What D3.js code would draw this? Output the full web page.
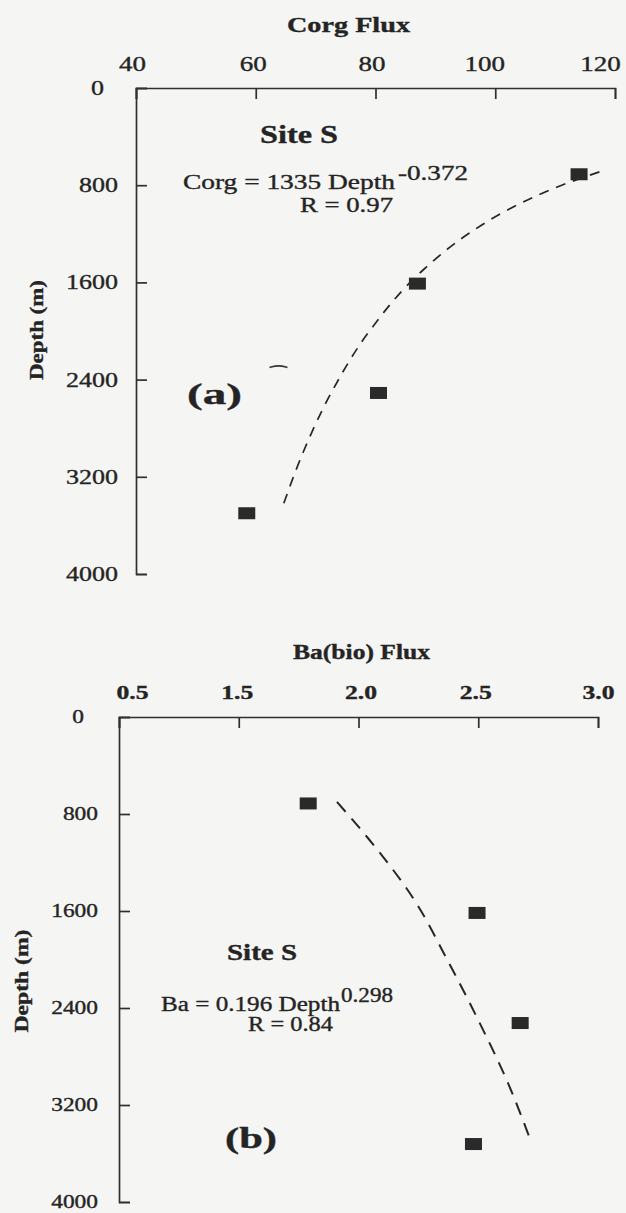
<!DOCTYPE html>
<html><head><meta charset="utf-8">
<script src="https://cdn.jsdelivr.net/npm/d3@7"></script>
<style>
html,body{margin:0;padding:0;background:#f5f5f3;}
svg{display:block;}
text{font-family:"Liberation Serif","Times New Roman",serif;fill:#242424;stroke:#242424;stroke-width:0.35px;}
</style></head><body>
<svg id="chart" width="626" height="1213"></svg>
<script>
// ---------- data ----------
const depthTicks = [0, 800, 1600, 2400, 3200, 4000];
const depthTickLabels = ["0", "800", "1600", "2400", "3200", "4000"];

const corgTicks = [40, 60, 80, 100, 120];
const corgTickLabels = ["40", "60", "80", "100", "120"];
const corgDepth = [710, 1610, 2510, 3500];
const corgFlux = [114.0, 87.0, 80.5, 58.5];
const corgFitDepth = [690, 800, 1000, 1200, 1500, 2000, 2500, 3000, 3430];
const corgFitFlux = [117.4, 111.1, 102.2, 95.5, 87.9, 79.0, 72.7, 67.9, 64.6];

const baTicks = [1.0, 1.5, 2.0, 2.5, 3.0];
const baTickLabels = ["0.5", "1.5", "2.0", "2.5", "3.0"];
const baDepth = [713, 1616, 2524, 3522];
const baFlux = [1.79, 2.495, 2.675, 2.48];
const baFitDepth = [700, 1000, 1500, 2000, 2500, 3000, 3500];
const baFitFlux = [1.91, 2.04, 2.23, 2.37, 2.50, 2.62, 2.72];

// ---------- helpers ----------
const svg = d3.select("#chart");
const INK = "#242424";

function fitWidth(sel, w) {
  sel.attr("textLength", w).attr("lengthAdjust", "spacingAndGlyphs");
}
function stretch(sel, f) {
  sel.each(function () {
    const n = this.getComputedTextLength();
    this.setAttribute("textLength", n * f);
    this.setAttribute("lengthAdjust", "spacingAndGlyphs");
  });
}
function label(g, txt, x, y, size, weight, width, anchor) {
  const t = g.append("text").attr("x", x).attr("y", y)
    .attr("font-size", size).attr("font-weight", weight || "normal")
    .attr("text-anchor", anchor || "start").text(txt);
  if (width) fitWidth(t, width);
  return t;
}

function panel(cfg) {
  const g = svg.append("g");
  const x = d3.scaleLinear().domain(cfg.xDomain).range(cfg.xRange);
  const y = d3.scaleLinear().domain([0, 4000]).range(cfg.yRange);

  // top axis, ticks pointing inward
  const ax = g.append("g").attr("transform", `translate(0,${cfg.yRange[0]})`)
    .call(d3.axisTop(x).tickValues(cfg.xTicks)
      .tickFormat((d, i) => cfg.xLabels[i])
      .tickSizeInner(-11).tickSizeOuter(-11).tickPadding(cfg.xPad));
  ax.selectAll("text").attr("font-size", cfg.xFont).attr("font-weight", cfg.xWeight)
    .attr("fill", INK).attr("font-family", '"Liberation Serif", serif');
  stretch(ax.selectAll("text"), cfg.xStretch);
  ax.selectAll(".tick text").attr("dx", (d, i) => cfg.xLabelDx[i]);

  // left axis, ticks pointing inward
  const ay = g.append("g").attr("transform", `translate(${cfg.xRange[0]},0)`)
    .call(d3.axisLeft(y).tickValues(depthTicks)
      .tickFormat((d, i) => depthTickLabels[i])
      .tickSizeInner(-11).tickSizeOuter(-11).tickPadding(cfg.yPad));
  ay.selectAll("text").attr("font-size", cfg.yFont).attr("fill", INK)
    .attr("font-family", '"Liberation Serif", serif');
  stretch(ay.selectAll("text"), 1.3);
  ay.selectAll(".tick").filter(d => d === 0).select("text").attr("dx", -14);

  [ax, ay].forEach(a => {
    a.selectAll("path,line").attr("stroke", "#303030").attr("stroke-width", 1.7);
  });

  // fitted dashed curve
  const pts = cfg.fitDepth.map((d, i) => [cfg.fitFlux[i], d]);
  g.append("path").datum(pts)
    .attr("d", d3.line().x(p => x(p[0])).y(p => y(p[1])).curve(d3.curveMonotoneY))
    .attr("fill", "none").attr("stroke", "#262626").attr("stroke-width", cfg.dashWidth)
    .attr("stroke-dasharray", cfg.dash);

  // data squares
  g.selectAll("rect.pt").data(cfg.depth.map((d, i) => [cfg.flux[i], d]))
    .enter().append("rect").attr("class", "pt")
    .attr("x", p => x(p[0]) - 8.5).attr("y", p => y(p[1]) - 6)
    .attr("width", 17).attr("height", 12).attr("fill", "#2a2a2a");

  return { g, x, y };
}

// ---------- panel (a) ----------
const A = panel({
  xDomain: [40, 120], xRange: [136, 615], yRange: [88, 574],
  xTicks: corgTicks, xLabels: corgTickLabels, xLabelDx: [-4, -3, -4, -11, -15],
  xFont: 20, xWeight: "normal", xStretch: 1.35, xPad: 17,
  yFont: 20, yPad: 18,
  fitDepth: corgFitDepth, fitFlux: corgFitFlux, dash: "10,8", dashWidth: 1.7,
  depth: corgDepth, flux: corgFlux
});
label(A.g, "Corg Flux", 287, 32, 21, "bold", 123);
label(A.g, "Site S", 260, 143, 25, "bold", 78);
label(A.g, "Corg = 1335 Depth", 183, 189, 20, "normal", 212);
label(A.g, "-0.372", 398, 180, 20, "normal", 70);
label(A.g, "R = 0.97", 300, 212, 20, "normal", 93);
label(A.g, "(a)", 187, 404, 30, "bold", 55);
A.g.append("text").attr("transform", "translate(43,330) rotate(-90)")
  .attr("text-anchor", "middle").attr("font-size", 18).attr("font-weight", "bold")
  .text("Depth (m)").call(fitWidth, 100);
// small stray mark in the scan
A.g.append("path")
  .attr("d", d3.line().x(p => A.x(p[0])).y(p => A.y(p[1])).curve(d3.curveBasis)([[62.3, 2300], [63.8, 2280], [65.3, 2300]]))
  .attr("fill", "none").attr("stroke", "#333").attr("stroke-width", 1.6);

// ---------- panel (b) ----------
const B = panel({
  xDomain: [1.0, 3.0], xRange: [119, 598], yRange: [717, 1202],
  xTicks: baTicks, xLabels: baTickLabels, xLabelDx: [13, -2, 2, -3, 0],
  xFont: 19, xWeight: "bold", xStretch: 1.35, xPad: 18,
  yFont: 18, yPad: 21,
  fitDepth: baFitDepth, fitFlux: baFitFlux, dash: "13,9", dashWidth: 2,
  depth: baDepth, flux: baFlux
});
label(B.g, "Ba(bio) Flux", 293, 659, 21, "bold", 137);
label(B.g, "Site S", 227, 960, 23, "bold", 70);
label(B.g, "Ba = 0.196 Depth", 161, 1011, 20, "normal", 179);
label(B.g, "0.298", 341, 1002, 20, "normal", 52);
label(B.g, "R = 0.84", 248, 1031, 20, "normal", 85);
label(B.g, "(b)", 225, 1148, 30, "bold", 52);
B.g.append("text").attr("transform", "translate(28,981) rotate(-90)")
  .attr("text-anchor", "middle").attr("font-size", 18).attr("font-weight", "bold")
  .text("Depth (m)").call(fitWidth, 103);
</script>
</body></html>
